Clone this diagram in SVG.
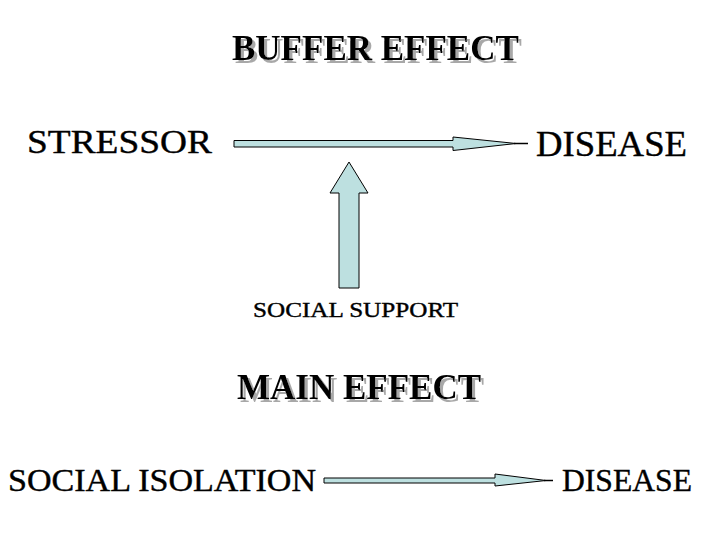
<svg xmlns="http://www.w3.org/2000/svg" width="720" height="540" viewBox="0 0 720 540">
<defs>
<filter id="shadow" x="-5%" y="-20%" width="110%" height="140%">
<feOffset in="SourceAlpha" dx="2.5" dy="3" result="off"/>
<feFlood flood-color="#a8a8a8"/>
<feComposite in2="off" operator="in" result="sh"/>
<feMerge><feMergeNode in="sh"/><feMergeNode in="SourceGraphic"/></feMerge>
</filter>
</defs>
<style>
.t{font-family:"Liberation Serif","Times New Roman",serif;fill:#000;stroke:#000;stroke-width:0.4}
.b{font-weight:bold;stroke-width:0}
.ar{fill:#bde0e0;stroke:#000;stroke-width:1}
.ln{stroke:#000;stroke-width:1.5}
</style>
<rect width="720" height="540" fill="#fff"/>
<g id="title-buffer" filter="url(#shadow)">
<text class="t b" x="232" y="60" font-size="35">BUFFER EFFECT</text>
</g>
<g id="stressor"><text class="t" x="27" y="153" font-size="34" textLength="185" lengthAdjust="spacingAndGlyphs">STRESSOR</text></g>
<g id="disease1"><text class="t" x="536" y="156" font-size="35" textLength="151" lengthAdjust="spacingAndGlyphs">DISEASE</text></g>
<g id="social-support"><text class="t" x="253" y="317" font-size="22" textLength="205" lengthAdjust="spacingAndGlyphs">SOCIAL SUPPORT</text></g>
<g id="title-main" filter="url(#shadow)">
<text class="t b" x="237" y="399" font-size="35">MAIN EFFECT</text>
</g>
<g id="social-isolation"><text class="t" x="8" y="491" font-size="31" textLength="308" lengthAdjust="spacingAndGlyphs">SOCIAL ISOLATION</text></g>
<g id="disease2"><text class="t" x="562" y="491" font-size="31" textLength="130" lengthAdjust="spacingAndGlyphs">DISEASE</text></g>
<g id="connectors">
<polygon class="ar" points="234,140.5 453,140.5 453,137 516,143.5 453,150.5 453,147 234,147"/>
<line class="ln" x1="514" y1="143.5" x2="528" y2="143.5"/>
<polygon class="ar" points="339,288 339,193 330,193 349,162 368,193 359,193 359,288"/>
<polygon class="ar" points="324,478 495,478 495,474 546,480.5 495,486 495,483 324,483"/>
<line class="ln" x1="544" y1="480.5" x2="553" y2="480.5"/>
</g>
</svg>
